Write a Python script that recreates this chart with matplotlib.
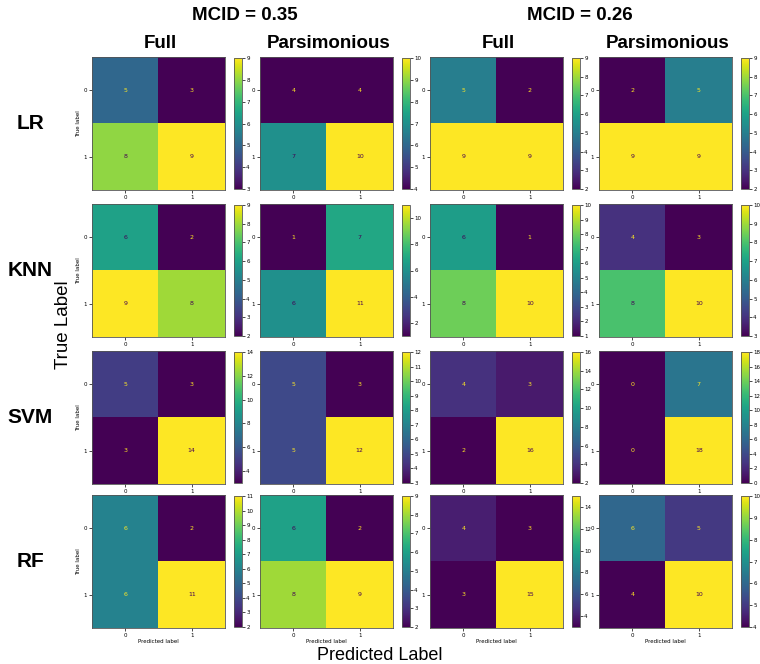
import matplotlib
matplotlib.use("Agg")
import matplotlib.pyplot as plt
import numpy as np
from matplotlib.ticker import MaxNLocator

models = ["LR", "KNN", "SVM", "RF"]
mcid_titles = ["MCID = 0.35", "MCID = 0.26"]
col_titles = ["Full", "Parsimonious", "Full", "Parsimonious"]
class_labels = ["0", "1"]

# confusion matrices: rows = models, columns = (0.35 Full, 0.35 Pars, 0.26 Full, 0.26 Pars)
lr_mats = [[[5, 3], [8, 9]], [[4, 4], [7, 10]], [[5, 2], [9, 9]], [[2, 5], [9, 9]]]
knn_mats = [[[6, 2], [9, 8]], [[1, 7], [6, 11]], [[6, 1], [8, 10]], [[4, 3], [8, 10]]]
svm_mats = [[[5, 3], [3, 14]], [[5, 3], [5, 12]], [[4, 3], [2, 16]], [[0, 7], [0, 18]]]
rf_mats = [[[6, 2], [6, 11]], [[6, 2], [8, 9]], [[4, 3], [3, 15]], [[6, 5], [4, 10]]]
all_mats = [lr_mats, knn_mats, svm_mats, rf_mats]

W, H = 760, 664
fig = plt.figure(figsize=(W / 100, H / 100), dpi=100)

def rect(x0, y0, x1, y1):
    return [x0 / W, 1 - y1 / H, (x1 - x0) / W, (y1 - y0) / H]

col_x = [92, 260, 430, 599]
row_y = [57, 204, 351, 495]
size = 133
cmap = plt.get_cmap("viridis")

for r, mats in enumerate(all_mats):
    for c, m in enumerate(mats):
        cm = np.array(m)
        x0, y0 = col_x[c], row_y[r]
        ax = fig.add_axes(rect(x0, y0, x0 + size, y0 + size))
        im = ax.imshow(cm, cmap=cmap, interpolation="nearest")
        thresh = (cm.max() + cm.min()) / 2.0
        for i in range(2):
            for j in range(2):
                color = cmap(1.0) if cm[i, j] < thresh else cmap(0)
                ax.text(j, i, str(cm[i, j]), ha="center", va="center",
                        fontsize=4.5, color=color)
        ax.set_xticks([0, 1])
        ax.set_yticks([0, 1])
        ax.set_xticklabels(class_labels)
        ax.set_yticklabels(class_labels)
        ax.tick_params(labelsize=4, length=2, width=0.5, pad=1.5)
        for s in ax.spines.values():
            s.set_linewidth(0.6)
            s.set_color("#555555")
        if c == 0:
            ax.set_ylabel("True label", fontsize=4, labelpad=2)
        if r == 3:
            ax.set_xlabel("Predicted label", fontsize=4, labelpad=1)
        cx = x0 + size + 9
        cax = fig.add_axes(rect(cx, y0 + 1, cx + 8, y0 + size - 1))
        cb = fig.colorbar(im, cax=cax)
        cb.locator = MaxNLocator(nbins=9, steps=[1, 2, 5, 10])
        cb.update_ticks()
        cb.ax.tick_params(labelsize=4, length=2, width=0.5, pad=1)
        cb.outline.set_linewidth(0.6)
        cb.outline.set_edgecolor("#555555")

bold = dict(family=["Liberation Sans", "DejaVu Sans"], fontweight="bold")
fig.text(245 / W, 1 - 16 / H, mcid_titles[0], ha="center", va="center", fontsize=13.5, **bold)
fig.text(580 / W, 1 - 16 / H, mcid_titles[1], ha="center", va="center", fontsize=13.5, **bold)
for c, t in enumerate(col_titles):
    fig.text((col_x[c] + size / 2 + 2) / W, 1 - 44 / H, t, ha="center", va="center",
             fontsize=13.5, **bold)
for r, name in enumerate(models):
    fig.text(30 / W, 1 - (row_y[r] + size / 2) / H, name, ha="center", va="center",
             fontsize=15, **bold)

reg = dict(family=["Liberation Sans", "DejaVu Sans"])
fig.text(64 / W, 1 - 325 / H, "True Label", rotation=90, ha="center", va="center",
         fontsize=13.5, **reg)
fig.text(380 / W, 1 - 655 / H, "Predicted Label", ha="center", va="center",
         fontsize=13, **reg)

fig.savefig("out.png", dpi=100)
